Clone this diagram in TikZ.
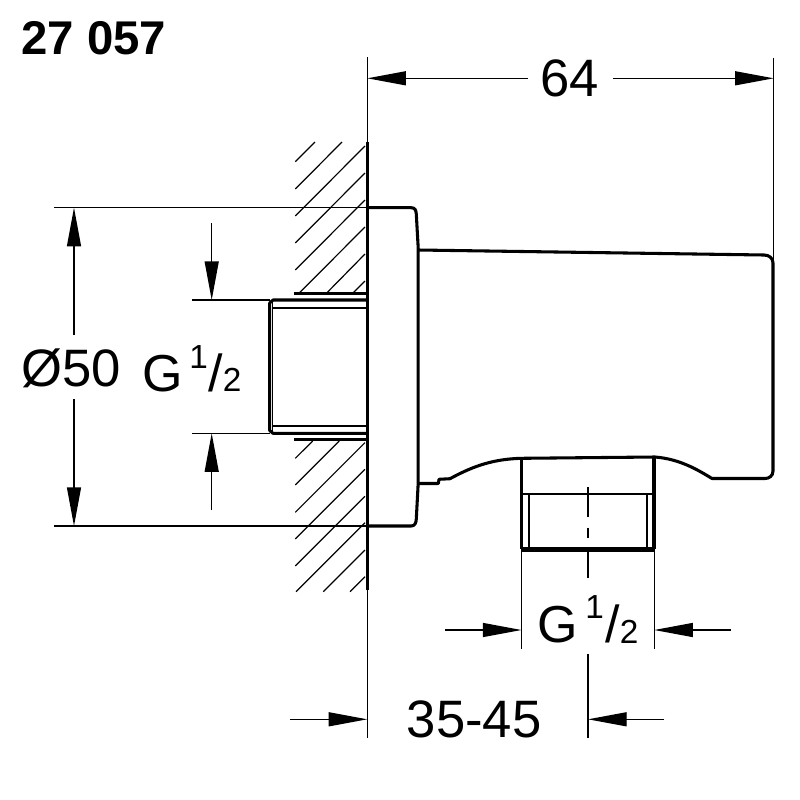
\documentclass[tikz,border=0pt]{standalone}
\usepackage{fontspec}
\setmainfont{Liberation Sans}
\usetikzlibrary{arrows.meta}
\tikzset{
    thinline/.style={line width=1pt},
    hatchline/.style={line width=0.9pt},
    outline/.style={line width=2.3pt,line join=round},
    innerline/.style={line width=1.3pt},
    dimarrow/.style={line width=1pt,-{Triangle[length=29pt,width=10.5pt]}},
    biglabel/.style={inner sep=0pt,anchor=base west,font=\fontsize{39.5}{41}\selectfont},
    glabel/.style={inner sep=0pt,anchor=base west,font=\fontsize{39}{41}\selectfont},
    smalllabel/.style={inner sep=0pt,anchor=base west,font=\fontsize{25}{27}\selectfont},
}
\begin{document}
\begin{tikzpicture}[x=0.75pt,y=-0.75pt]
    \useasboundingbox (0,0) rectangle (800,800);
    \fill[white] (0,0) rectangle (800,800);

    % wall hatching
    \foreach \xa/\ya/\xb/\yb in {295.3/161.7/315/142,295.3/189/342/142,295.3/216/365/146,295.3/243/365/173,
        295.3/270/365/200,299.3/293/365/227,326.7/293/365/254,353/293/365/281,
        295.3/458.3/312.7/441,295.3/485/339.3/441,295.3/512.3/365/442.6,295.3/539/365/469.3,
        295.3/566/365/496.3,296/591.7/365/522.7,323.3/591.7/365/550,350/591.7/365/576.7}
        \draw[hatchline] (\xa,\ya) -- (\xb,\yb);
    \draw[outline] (294,293.5) -- (367,293.5);
    \draw[outline] (294,439.5) -- (367,439.5);

    % wall
    \coordinate (wallTop) at (367.3,57);
    \coordinate (wallBottom) at (367.3,738);
    \draw[thinline] (wallTop) -- (wallBottom);
    \draw[outline] (367.3,142) -- (367.3,590);

    % threaded stub in the wall
    \draw[outline] (367,300) -- (273,300) -- (269.7,303) -- (269.7,430.5) -- (273,433.3) -- (367,433.3);
    \draw[innerline] (272.5,302) -- (272.5,431);
    \draw[innerline] (272.5,307.7) -- (367,307.7);
    \draw[innerline] (272.5,426) -- (367,426);

    % flange
    \draw[outline] (367,207.7) -- (411,207.7) .. controls (415,207.7) and (416,210) .. (416.3,214)
        -- (418.2,248) -- (418.2,483) -- (416.3,519) .. controls (416,523) and (415,526) .. (411,526) -- (367,526);

    % body
    \draw[outline] (418.2,250) -- (764,255) .. controls (769,255) and (773,258) .. (773,263)
        -- (773,471) .. controls (773,476) and (769,478.5) .. (765,478.5) -- (712,478.5)
        .. controls (698,470) and (680,459) .. (655,457) -- (521.7,458.3)
        .. controls (495,459) and (475,465) .. (450,478.7) -- (439,479.3) -- (438.3,483.5) -- (418.2,483.5);

    % outlet nut
    \draw[outline] (521.7,458) -- (521.7,549);
    \draw[outline] (654,457) -- (654,549);
    \draw[line width=3.6pt] (521,549.5) -- (654.7,549.5);
    \draw[innerline] (521.7,494) -- (654,494);
    \draw[innerline] (529.3,494) -- (529.3,548);
    \draw[innerline] (647.3,494) -- (647.3,548);
    \draw[thinline] (588,487.3) -- (588,516.7);
    \draw[thinline] (588,527.7) -- (588,538.3);

    % extension lines
    \coordinate (dia50Top) at (54,207.7);
    \coordinate (dia50Bottom) at (54,526);
    \coordinate (wall50Top) at (367,207.7);
    \coordinate (wall50Bottom) at (367,526);
    \draw[thinline] (dia50Top) -- (wall50Top);
    \draw[thinline] (dia50Bottom) -- (wall50Bottom);
    \coordinate (threadTop) at (192,300);
    \coordinate (threadBottom) at (192,433.3);
    \coordinate (stubTop) at (270,300);
    \coordinate (stubBottom) at (270,433.3);
    \draw[thinline] (threadTop) -- (stubTop);
    \draw[thinline] (threadBottom) -- (stubBottom);
    \coordinate (widthRight) at (773.7,58);
    \coordinate (bodyRight) at (773.7,262);
    \draw[thinline] (widthRight) -- (bodyRight);
    \coordinate (nutLeftA) at (521.5,551);
    \coordinate (nutLeftB) at (521.5,649);
    \coordinate (nutRightA) at (654.2,551);
    \coordinate (nutRightB) at (654.2,649);
    \draw[thinline] (nutLeftA) -- (nutLeftB);
    \draw[thinline] (nutRightA) -- (nutRightB);
    \coordinate (axisTop) at (588,552);
    \coordinate (axisGapA) at (588,578);
    \coordinate (axisGapB) at (588,654);
    \coordinate (axisBottom) at (588,738);
    \draw[thinline] (axisTop) -- (axisGapA);
    \draw[thinline] (axisGapB) -- (axisBottom);

    % width 64
    \coordinate (widthA) at (528,78.3);
    \coordinate (widthTipA) at (367.3,78.3);
    \coordinate (widthB) at (613,78.3);
    \coordinate (widthTipB) at (773.7,78.3);
    \draw[dimarrow] (widthA) -- (widthTipA);
    \draw[dimarrow] (widthB) -- (widthTipB);

    % diameter 50
    \coordinate (diaA) at (74,335);
    \coordinate (diaTipA) at (74,207.7);
    \coordinate (diaB) at (74,399);
    \coordinate (diaTipB) at (74,526);
    \draw[dimarrow] (diaA) -- (diaTipA);
    \draw[dimarrow] (diaB) -- (diaTipB);

    % wall thread
    \coordinate (threadA) at (211.7,223);
    \coordinate (threadTipA) at (211.7,300);
    \coordinate (threadB) at (211.7,510);
    \coordinate (threadTipB) at (211.7,433.3);
    \draw[dimarrow] (threadA) -- (threadTipA);
    \draw[dimarrow] (threadB) -- (threadTipB);

    % outlet thread
    \coordinate (outletA) at (445,630);
    \coordinate (outletTipA) at (521.5,630);
    \coordinate (outletB) at (731,630);
    \coordinate (outletTipB) at (654.2,630);
    \draw[dimarrow] (outletA) -- (outletTipA);
    \draw[dimarrow] (outletB) -- (outletTipB);

    % depth 35-45
    \coordinate (depthA) at (290,719.3);
    \coordinate (depthTipA) at (367.3,719.3);
    \coordinate (depthB) at (664,719.3);
    \coordinate (depthTipB) at (588,719.3);
    \draw[dimarrow] (depthA) -- (depthTipA);
    \draw[dimarrow] (depthB) -- (depthTipB);

    % labels
    \node[inner sep=0pt,anchor=base west,font=\fontsize{35.5}{37}\selectfont\bfseries] (title) at (21,54.5) {27 057};
    \node[biglabel] (width) at (540,96.5) {64};
    \node[biglabel] (dia) at (21,386) {Ø50};
    \node[glabel] (threadG) at (142,391) {G};
    \node[smalllabel] (threadOne) at (189,368) {1};
    \node[glabel] (threadSlash) at (208,391) {/};
    \node[smalllabel] (threadTwo) at (222.5,391.5) {2};
    \node[glabel] (outletG) at (537.5,642.5) {G};
    \node[smalllabel] (outletOne) at (585,618) {1};
    \node[glabel] (outletSlash) at (605,642.5) {/};
    \node[smalllabel] (outletTwo) at (619.5,643) {2};
    \node[biglabel] (depth) at (406.5,737) {35-45};
\end{tikzpicture}
\end{document}
